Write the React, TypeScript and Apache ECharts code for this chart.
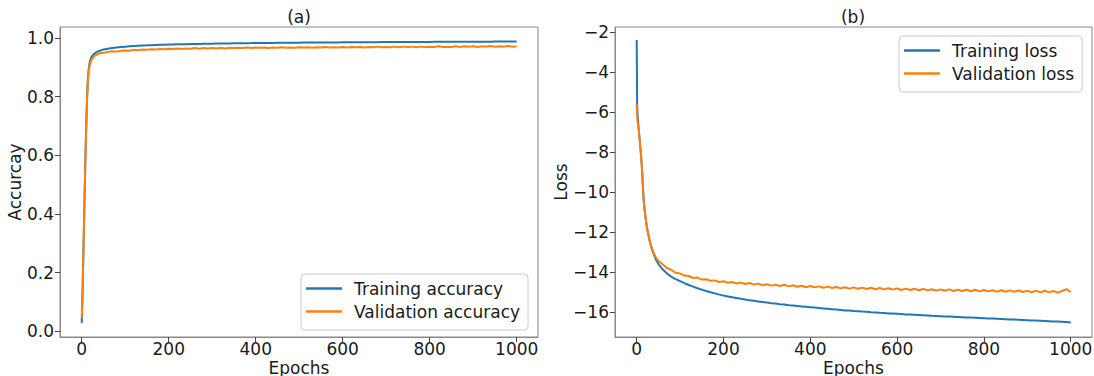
import React, { useEffect, useRef } from "react";
import * as echarts from "echarts";

const epochs = [
  0, 1, 2, 4, 6, 8, 10, 12, 14, 16, 18, 20, 23, 26, 30, 35, 40, 45, 50,
  60, 70, 80, 90, 100, 110, 120, 130, 140, 150, 160, 170, 180, 190, 200,
  210, 220, 230, 240, 250, 260, 270, 280, 290, 300, 310, 320, 330, 340, 350,
  360, 370, 380, 390, 400, 410, 420, 430, 440, 450, 460, 470, 480, 490, 500,
  510, 520, 530, 540, 550, 560, 570, 580, 590, 600, 610, 620, 630, 640, 650,
  660, 670, 680, 690, 700, 710, 720, 730, 740, 750, 760, 770, 780, 790, 800,
  810, 820, 830, 840, 850, 860, 870, 880, 890, 900, 910, 920, 930, 940, 950,
  960, 970, 980, 990, 1000,
];

const trainAcc = [
  0.028, 0.08, 0.14, 0.28, 0.42, 0.56, 0.68, 0.79, 0.86, 0.895, 0.915, 0.927, 0.937, 0.943, 0.948, 0.953, 0.956, 0.959, 0.961,
  0.964, 0.966, 0.968, 0.9695, 0.971, 0.972, 0.973, 0.974, 0.9747, 0.9753, 0.976, 0.9765, 0.977, 0.9775, 0.978,
  0.9784, 0.9788, 0.9792, 0.9795, 0.9798, 0.9801, 0.9804, 0.9807, 0.981, 0.9812, 0.9815, 0.9817, 0.9819, 0.9821, 0.9823,
  0.9825, 0.9827, 0.9829, 0.983, 0.9832, 0.9834, 0.9835, 0.9837, 0.9838, 0.984, 0.9841, 0.9842, 0.9844, 0.9845, 0.9846,
  0.9847, 0.9848, 0.9849, 0.985, 0.9851, 0.9852, 0.9853, 0.9854, 0.9855, 0.9856, 0.9857, 0.9858, 0.9859, 0.986, 0.9861,
  0.9862, 0.9863, 0.9863, 0.9864, 0.9865, 0.9866, 0.9867, 0.9867, 0.9868, 0.9869, 0.987, 0.987, 0.9871, 0.9872, 0.9872,
  0.9873, 0.9874, 0.9874, 0.9875, 0.9875, 0.9876, 0.9877, 0.9877, 0.9878, 0.9878, 0.9879, 0.9879, 0.988, 0.988, 0.9881,
  0.9881, 0.9882, 0.9882, 0.9883, 0.9883,
];

const valAcc = [
  0.045, 0.09, 0.15, 0.29, 0.43, 0.56, 0.68, 0.78, 0.85, 0.885, 0.905, 0.917, 0.928, 0.933, 0.94, 0.944, 0.947, 0.95, 0.949,
  0.953, 0.955, 0.954, 0.957, 0.958, 0.957, 0.96, 0.959, 0.961, 0.96, 0.962, 0.961, 0.963, 0.962, 0.964,
  0.963, 0.965, 0.963, 0.965, 0.964, 0.966, 0.964, 0.966, 0.965, 0.966, 0.965, 0.967, 0.965, 0.967, 0.966,
  0.967, 0.966, 0.968, 0.966, 0.968, 0.967, 0.968, 0.966, 0.968, 0.967, 0.969, 0.967, 0.968, 0.967, 0.969,
  0.968, 0.969, 0.967, 0.969, 0.968, 0.97, 0.968, 0.969, 0.968, 0.97, 0.968, 0.97, 0.969, 0.97, 0.968,
  0.97, 0.969, 0.971, 0.969, 0.97, 0.969, 0.971, 0.969, 0.971, 0.97, 0.971, 0.969, 0.971, 0.97, 0.971,
  0.97, 0.972, 0.97, 0.971, 0.97, 0.972, 0.97, 0.972, 0.971, 0.972, 0.97, 0.972, 0.971, 0.973, 0.971,
  0.972, 0.971, 0.973, 0.971, 0.972,
];

const trainLoss = [
  -2.4, -5.6, -6.1, -6.7, -7.2, -7.65, -8.15, -8.8, -9.6, -10.4, -10.85, -11.2, -11.7, -12.05, -12.45, -12.85, -13.15, -13.4, -13.6,
  -13.88, -14.08, -14.24, -14.36, -14.46, -14.56, -14.65, -14.73, -14.81, -14.88, -14.95, -15.01, -15.07, -15.13, -15.18,
  -15.22, -15.26, -15.3, -15.34, -15.38, -15.41, -15.44, -15.47, -15.5, -15.53, -15.56, -15.58, -15.61, -15.63, -15.66,
  -15.68, -15.7, -15.72, -15.74, -15.76, -15.78, -15.8, -15.82, -15.84, -15.86, -15.88, -15.9, -15.92, -15.93, -15.95,
  -15.96, -15.98, -15.99, -16.01, -16.02, -16.04, -16.05, -16.07, -16.08, -16.09, -16.1, -16.12, -16.13, -16.14, -16.15,
  -16.16, -16.17, -16.19, -16.2, -16.21, -16.22, -16.23, -16.24, -16.25, -16.26, -16.27, -16.28, -16.29, -16.3, -16.31,
  -16.32, -16.33, -16.34, -16.35, -16.36, -16.37, -16.38, -16.39, -16.4, -16.41, -16.42, -16.43, -16.44, -16.45, -16.46,
  -16.47, -16.48, -16.49, -16.5, -16.52,
];

const valLoss = [
  -5.6, -6.2, -6.5, -6.75, -7.2, -7.65, -8.15, -8.8, -9.6, -10.4, -10.85, -11.2, -11.7, -12.05, -12.45, -12.85, -13.1, -13.3, -13.45,
  -13.62, -13.8, -13.9, -14.04, -14.08, -14.18, -14.2, -14.3, -14.28, -14.38, -14.36, -14.44, -14.42, -14.5, -14.46,
  -14.54, -14.5, -14.57, -14.53, -14.6, -14.55, -14.63, -14.58, -14.66, -14.61, -14.68, -14.63, -14.7, -14.64, -14.72,
  -14.66, -14.74, -14.69, -14.76, -14.7, -14.77, -14.72, -14.79, -14.73, -14.8, -14.75, -14.82, -14.76, -14.83, -14.77,
  -14.84, -14.78, -14.85, -14.79, -14.86, -14.8, -14.87, -14.81, -14.88, -14.82, -14.9, -14.83, -14.9, -14.84, -14.91,
  -14.85, -14.92, -14.86, -14.93, -14.87, -14.94, -14.87, -14.95, -14.88, -14.95, -14.89, -14.96, -14.89, -14.97, -14.9,
  -14.97, -14.91, -14.98, -14.91, -14.99, -14.92, -14.99, -14.92, -15.0, -14.93, -15.01, -14.93, -15.02, -14.94, -15.02,
  -14.95, -15.03, -14.95, -14.86, -15.0,
];

const xTicks = [0, 200, 400, 600, 800, 1000];
const accTicks = [0, 0.2, 0.4, 0.6, 0.8, 1.0];
const lossTicks = [-16, -14, -12, -10, -8, -6, -4, -2];

const FONT = "DejaVu Sans";
const BLUE = "#1f77b4";
const ORANGE = "#ff7f0e";
const FRAME = "#888888";
const TEXT = "#1a1a1a";

function pairs(ys: number[]) {
  return epochs.map((e, i) => [e, ys[i]]);
}

export default function App() {
  const ref = useRef<HTMLDivElement>(null);
  useEffect(() => {
    if (!ref.current) return;
    const chart = echarts.init(ref.current, undefined, { renderer: "svg" });
    const labelStyle = { fontFamily: FONT, fontSize: 17, color: TEXT };
    const axisLine = { show: true, onZero: false, lineStyle: { color: FRAME, width: 1 } };
    const xAxisBase = (gridIndex: number) => ({
      type: "value",
      gridIndex,
      min: -50,
      max: 1049,
      splitNumber: 5,
      splitLine: { show: false },
      axisLine,
      axisTick: { show: true, length: 5, customValues: xTicks, lineStyle: { color: "#444" } },
      axisLabel: { ...labelStyle, margin: 3, customValues: xTicks, formatter: (v: number) => String(v) },
      name: "Epochs",
      nameLocation: "middle",
      nameGap: 22,
      nameMoveOverlap: false,
      nameTextStyle: { ...labelStyle, verticalAlign: "top" },
    });
    const minus = (v: number) => String(v).replace("-", "\u2212");
    const legendBase = {
      orient: "vertical",
      icon: "rect",
      itemWidth: 36,
      itemHeight: 2.5,
      itemGap: 6,
      padding: [6, 8, 10, 5],
      backgroundColor: "rgba(255,255,255,0.8)",
      borderColor: "#cccccc",
      borderWidth: 1,
      borderRadius: 4,
      textStyle: { ...labelStyle, padding: [0, 0, 0, 7] },
    };
    chart.setOption({
      animation: false,
      backgroundColor: "#ffffff",
      title: [
        { text: "(a)", left: 299, top: 8, textAlign: "center", padding: 0, textStyle: { ...labelStyle, fontWeight: "normal" } },
        { text: "(b)", left: 853, top: 8, textAlign: "center", padding: 0, textStyle: { ...labelStyle, fontWeight: "normal" } },
      ],
      grid: [
        { left: 60, top: 27, width: 478, height: 310, show: true, borderColor: FRAME, borderWidth: 1, containLabel: false, outerBoundsMode: "none" },
        { left: 615, top: 27, width: 477, height: 310, show: true, borderColor: FRAME, borderWidth: 1, containLabel: false, outerBoundsMode: "none" },
      ],
      xAxis: [xAxisBase(0), xAxisBase(1)],
      yAxis: [
        {
          type: "value",
          gridIndex: 0,
          min: -0.02,
          max: 1.038,
          splitLine: { show: false },
          axisLine,
          axisTick: { show: true, length: 5, customValues: accTicks, lineStyle: { color: "#444" } },
          axisLabel: { ...labelStyle, margin: 6, customValues: accTicks, formatter: (v: number) => v.toFixed(1) },
          name: "Accurcay",
          nameLocation: "middle",
          nameGap: 32,
          nameTextStyle: labelStyle,
        },
        {
          type: "value",
          gridIndex: 1,
          min: -17.25,
          max: -1.75,
          splitLine: { show: false },
          axisLine,
          axisTick: { show: true, length: 5, customValues: lossTicks, lineStyle: { color: "#444" } },
          axisLabel: { ...labelStyle, margin: 6, customValues: lossTicks, formatter: minus },
          name: "Loss",
          nameLocation: "middle",
          nameGap: 34,
          nameTextStyle: labelStyle,
        },
      ],
      legend: [
        { ...legendBase, left: 301, top: 274, data: ["Training accuracy", "Validation accuracy"] },
        { ...legendBase, left: 899, top: 36, data: ["Training loss", "Validation loss"] },
      ],
      series: [
        { name: "Training accuracy", type: "line", xAxisIndex: 0, yAxisIndex: 0, data: pairs(trainAcc), showSymbol: false, symbol: "none", color: BLUE, lineStyle: { width: 2, color: BLUE } },
        { name: "Validation accuracy", type: "line", xAxisIndex: 0, yAxisIndex: 0, data: pairs(valAcc), showSymbol: false, symbol: "none", color: ORANGE, lineStyle: { width: 2, color: ORANGE } },
        { name: "Training loss", type: "line", xAxisIndex: 1, yAxisIndex: 1, data: pairs(trainLoss), showSymbol: false, symbol: "none", color: BLUE, lineStyle: { width: 2, color: BLUE } },
        { name: "Validation loss", type: "line", xAxisIndex: 1, yAxisIndex: 1, data: pairs(valLoss), showSymbol: false, symbol: "none", color: ORANGE, lineStyle: { width: 2, color: ORANGE } },
      ],
    });
    return () => chart.dispose();
  }, []);
  return (
    <div
      ref={ref}
      style={{ position: "absolute", left: 0, top: 0, width: 1094, height: 376 }}
    />
  );
}
